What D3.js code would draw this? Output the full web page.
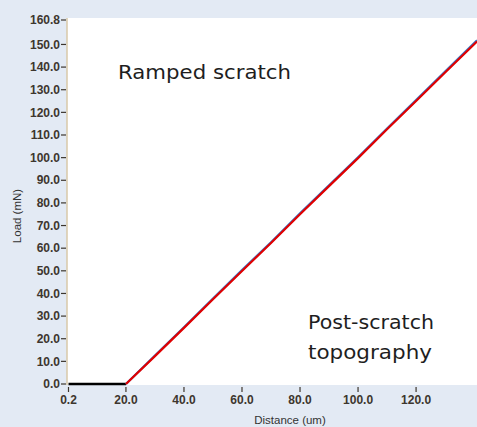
<!DOCTYPE html>
<html><head><meta charset="utf-8">
<script src="https://cdn.jsdelivr.net/npm/d3@7"></script>
<style>body{margin:0;background:#e3eaf4;}svg{display:block;}</style>
</head><body>
<svg id="c" width="477" height="427"></svg>
<script>
const yTicks = [0,10,20,30,40,50,60,70,80,90,100,110,120,130,140,150,160.8];
const xTicks = [0.2,20,40,60,80,100,120];
const flatX = [0.2, 20];
const flatY = [0, 0];
const rampX = [20, 30, 40, 50, 60, 70, 80, 90, 100, 110, 120, 130, 141];
const redY  = [0, 12.3, 24.8, 37.4, 49.9, 62.3, 75.0, 87.4, 99.8, 112.5, 125.0, 137.6, 151.3];
const blueY = [0, 12.6, 25.1, 37.7, 50.3, 62.6, 75.4, 87.8, 100.2, 112.9, 125.4, 138.0, 151.8];

const svg = d3.select("#c");
const L = 67, R = 477, T = 18, B = 385;
const x = d3.scaleLinear().domain([0.2, 141]).range([L+1.5, R]);
const y = d3.scaleLinear().domain([0, 160.8]).range([B-1, T+2]);

svg.append("rect").attr("x",L).attr("y",T).attr("width",R-L).attr("height",B-T).attr("fill","#ffffff");
svg.append("line").attr("x1",L).attr("x2",L).attr("y1",T).attr("y2",B).attr("stroke","#d9c9a9").attr("stroke-width",1.5);

const tickColor = "#3d362e";
const tickFont = "'Liberation Sans Narrow', 'Liberation Sans', Arial, sans-serif";
const yg = svg.append("g");
yTicks.forEach(v=>{
  yg.append("line").attr("x1",L-6).attr("x2",L-1).attr("y1",y(v)).attr("y2",y(v)).attr("stroke",tickColor).attr("stroke-width",1.2);
  yg.append("text").attr("x",L-7).attr("y",y(v)).attr("dy","0.35em").attr("text-anchor","end")
    .attr("font-family",tickFont).attr("font-weight","bold").attr("font-size",12).attr("fill",tickColor)
    .text(v.toFixed(1));
});
const xg = svg.append("g");
xTicks.forEach(v=>{
  xg.append("line").attr("x1",x(v)).attr("x2",x(v)).attr("y1",B+2).attr("y2",B+7).attr("stroke",tickColor).attr("stroke-width",1.2);
  xg.append("text").attr("x",x(v)).attr("y",B+19).attr("text-anchor","middle")
    .attr("font-family",tickFont).attr("font-weight","bold").attr("font-size",12).attr("fill",tickColor)
    .text(v.toFixed(1));
});

svg.append("text").attr("x",290).attr("y",424).attr("text-anchor","middle")
  .attr("font-family","'Liberation Sans Narrow', 'Liberation Sans', Arial, sans-serif").attr("font-size",11.5).attr("fill","#333").text("Distance (um)");
svg.append("text").attr("transform","translate(21,216) rotate(-90)").attr("text-anchor","middle")
  .attr("font-family","'Liberation Sans Narrow', 'Liberation Sans', Arial, sans-serif").attr("font-size",11.5).attr("fill","#333").text("Load (mN)");

const line = d3.line();
svg.append("path").attr("d", line(flatX.map((d,i)=>[x(d), y(flatY[i])])))
  .attr("fill","none").attr("stroke","#000").attr("stroke-width",2.5);
svg.append("path").attr("d", line(rampX.map((d,i)=>[x(d), y(blueY[i])])))
  .attr("fill","none").attr("stroke","#3a78c8").attr("stroke-width",2.2);
svg.append("path").attr("d", line(rampX.map((d,i)=>[x(d), y(redY[i])])))
  .attr("fill","none").attr("stroke","#e00000").attr("stroke-width",2.2);

const annFont = "'DejaVu Sans', sans-serif";
svg.append("text").attr("x",118).attr("y",79).attr("font-family",annFont)
  .attr("font-size",19).attr("fill","#1e1e1e").attr("textLength",173).attr("lengthAdjust","spacingAndGlyphs").text("Ramped scratch");
svg.append("text").attr("x",308).attr("y",329).attr("font-family",annFont)
  .attr("font-size",19).attr("fill","#1e1e1e").attr("textLength",126).attr("lengthAdjust","spacingAndGlyphs").text("Post-scratch");
svg.append("text").attr("x",308).attr("y",359).attr("font-family",annFont)
  .attr("font-size",19).attr("fill","#1e1e1e").attr("textLength",124).attr("lengthAdjust","spacingAndGlyphs").text("topography");
</script>
</body></html>
